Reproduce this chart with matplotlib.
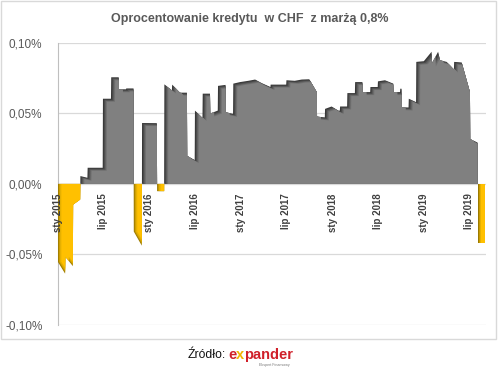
import matplotlib
matplotlib.use('Agg')
import matplotlib.pyplot as plt
import matplotlib.dates as mdates
import matplotlib.transforms as mtransforms
from matplotlib.path import Path
from matplotlib.patches import Rectangle
import numpy as np
import pandas as pd

# ---- data ----
dates = [
    '2015-01-01', '2015-01-30', '2015-01-31', '2015-03-02', '2015-03-03', '2015-03-31',
    '2015-04-01', '2015-04-29', '2015-04-30', '2015-06-29', '2015-06-30', '2015-08-01',
    '2015-08-02', '2015-09-01', '2015-09-02', '2015-09-30', '2015-10-01', '2015-10-30',
    '2015-10-31', '2015-12-02',
    '2015-12-03', '2016-01-31',
    '2016-02-01', '2016-02-29',
    '2016-03-01', '2016-03-31', '2016-04-01', '2016-04-30', '2016-05-01', '2016-05-30',
    '2016-05-31', '2016-06-30', '2016-07-01', '2016-07-31', '2016-08-01', '2016-08-30',
    '2016-08-31', '2016-09-30', '2016-10-01', '2016-10-31', '2016-11-01', '2016-11-30',
    '2016-12-01', '2016-12-28', '2017-01-30', '2017-02-26', '2017-03-24', '2017-04-28',
    '2017-04-29', '2017-06-30', '2017-07-01', '2017-08-03', '2017-08-31', '2017-09-30',
    '2017-10-30', '2017-10-31', '2017-12-01', '2017-12-02', '2017-12-28', '2018-01-24',
    '2018-01-30', '2018-01-31', '2018-02-28', '2018-03-01', '2018-03-31', '2018-04-01',
    '2018-04-30', '2018-05-01', '2018-05-31', '2018-06-01', '2018-06-30', '2018-07-01',
    '2018-07-29', '2018-08-31', '2018-09-01', '2018-09-27', '2018-09-28', '2018-10-03',
    '2018-10-04', '2018-10-31', '2018-11-01', '2018-11-30', '2018-12-01', '2018-12-31',
    '2019-01-31', '2019-02-01', '2019-02-26', '2019-03-05', '2019-04-01', '2019-04-30',
    '2019-05-01', '2019-05-31', '2019-07-03', '2019-07-04', '2019-08-02',
    '2019-08-03', '2019-09-01',
]
values = [
    -0.0552, -0.0636, -0.0516, -0.0583, -0.0147, -0.0111,
    0.0055, 0.0043, 0.0114, 0.0114, 0.0603, 0.0603,
    0.0755, 0.0755, 0.0670, 0.0670, 0.0676, 0.0676,
    -0.0338, -0.0438,
    0.0431, 0.0430,
    -0.0052, -0.0052,
    0.0705, 0.0662, 0.0703, 0.0650, 0.0646, 0.0646,
    0.0198, 0.0169, 0.0519, 0.0467, 0.0639, 0.0639,
    0.0498, 0.0519, 0.0694, 0.0701, 0.0507, 0.0496,
    0.0710, 0.0721, 0.0730, 0.0739, 0.0714, 0.0686,
    0.0703, 0.0703, 0.0734, 0.0730, 0.0739, 0.0741,
    0.0650, 0.0476, 0.0471, 0.0531, 0.0548, 0.0519,
    0.0519, 0.0548, 0.0548, 0.0643, 0.0643, 0.0721,
    0.0721, 0.0650, 0.0650, 0.0686, 0.0686, 0.0726,
    0.0734, 0.0710, 0.0650, 0.0650, 0.0674, 0.0674,
    0.0543, 0.0541, 0.0603, 0.0579, 0.0864, 0.0869,
    0.0936, 0.0853, 0.0936, 0.0876, 0.0864, 0.0810,
    0.0864, 0.0860, 0.0650, 0.0317, 0.0293,
    -0.0421, -0.0421,
]
tick_dates = ['2015-01-01', '2015-07-01', '2016-01-01', '2016-07-01', '2017-01-01',
              '2017-07-01', '2018-01-01', '2018-07-01', '2019-01-01', '2019-07-01']
tick_labels = ['sty 2015', 'lip 2015', 'sty 2016', 'lip 2016', 'sty 2017',
               'lip 2017', 'sty 2018', 'lip 2018', 'sty 2019', 'lip 2019']
y_ticks = [-0.10, -0.05, 0.0, 0.05, 0.10]
y_labels = ['-0,10%', '-0,05%', '0,00%', '0,05%', '0,10%']
title = 'Oprocentowanie kredytu  w CHF  z marżą 0,8%'

plt.rcParams['font.family'] = ['Liberation Sans', 'DejaVu Sans']

W, H = 500, 373
fig = plt.figure(figsize=(W / 100, H / 100), dpi=100)
fig.patch.set_facecolor('white')
ax = fig.add_axes([57.7 / W, (H - 325) / H, (486 - 57.7) / W, (325 - 42.7) / H])

x = mdates.date2num(pd.to_datetime(dates).to_pydatetime())
y = np.array(values)

def shaded_fill(mask, colors, offsets):
    base = ax.fill_between(x, 0, y, where=mask, interpolate=True,
                           color=colors[0], lw=0, zorder=2)
    comp = Path.make_compound_path(*base.get_paths())
    for i, (c, (dx, dy)) in enumerate(zip(colors[1:], offsets)):
        off = mtransforms.offset_copy(ax.transData, fig=fig, x=dx, y=dy, units='dots')
        layer = ax.fill_between(x, 0, y, where=mask, interpolate=True,
                                color=c, lw=0, zorder=3 + i * 0.01)
        layer.set_transform(off)
        layer.set_clip_path(comp, ax.transData)

shaded_fill(y >= 0, ['#383838', '#4a4a4a', '#5e5e5e', '#707070', '#808080'],
            [(1, -0.8), (2, -1.6), (3, -2.3), (4, -3)])
shaded_fill(y < 0, ['#9c7a00', '#c79a00', '#e6b000', '#ffc000'],
            [(1, 0), (2, 0), (3.5, 0)])

ax.spines['bottom'].set_position(('data', 0))
ax.spines['bottom'].set_visible(False)
for s in ['top', 'right']:
    ax.spines[s].set_visible(False)
ax.spines['left'].set_color('#bfbfbf')
ax.spines['left'].set_linewidth(0.8)
ax.spines['left'].set_zorder(1)

ax.set_xlim(x[0] - 0.5, mdates.date2num(pd.Timestamp('2019-09-05')))
ax.set_ylim(-0.10, 0.10)
ax.set_yticks(y_ticks)
ax.set_yticklabels(y_labels)
ax.set_xticks(mdates.date2num(pd.to_datetime(tick_dates).to_pydatetime()))
ax.set_xticklabels(tick_labels, rotation=90, fontsize=7, fontweight='bold',
                   color='#404040', va='top', ha='center')
ax.tick_params(axis='x', length=0, pad=7)
ax.tick_params(axis='y', length=0, pad=11, labelsize=8.5, labelcolor='#595959')
ax.yaxis.grid(True, color='#d9d9d9', lw=0.9, zorder=0)
ax.set_axisbelow(True)
ax.xaxis.set_zorder(5)

fig.text(249.5 / W, 1 - 19 / H, title, ha='center', va='center',
         fontsize=9, fontweight='bold', color='#595959')

# outer frame
fig.add_artist(Rectangle((1 / W, 1 - 339 / H), 495 / W, 338 / H, transform=fig.transFigure,
                         fill=False, edgecolor='#d9d9d9', lw=1))

# source line
fig.text(226 / W, 1 - 355 / H, 'Źródło:', ha='right', va='center',
         fontsize=8.8, color='#111111')
red = '#d0202a'
t2 = fig.text(228 / W, 1 - 355 / H, 'e', ha='left', va='center',
              fontsize=10.5, fontweight='bold', color=red)
fig.canvas.draw()
bb2 = t2.get_window_extent()
t3 = fig.text(bb2.x1 / W, bb2.y0 / H, 'x', ha='left', va='bottom', fontsize=10.5,
              fontweight='bold', color='#f2b400')
fig.canvas.draw()
bb3 = t3.get_window_extent()
fig.text(bb3.x1 / W, bb2.y0 / H, 'pander', ha='left', va='bottom', fontsize=10.5,
         fontweight='bold', color=red)
fig.text(290 / W, 1 - 365 / H, 'Ekspert Finansowy', ha='right', va='center',
         fontsize=2.6, color='#777777')

fig.savefig('out.png', dpi=100)
